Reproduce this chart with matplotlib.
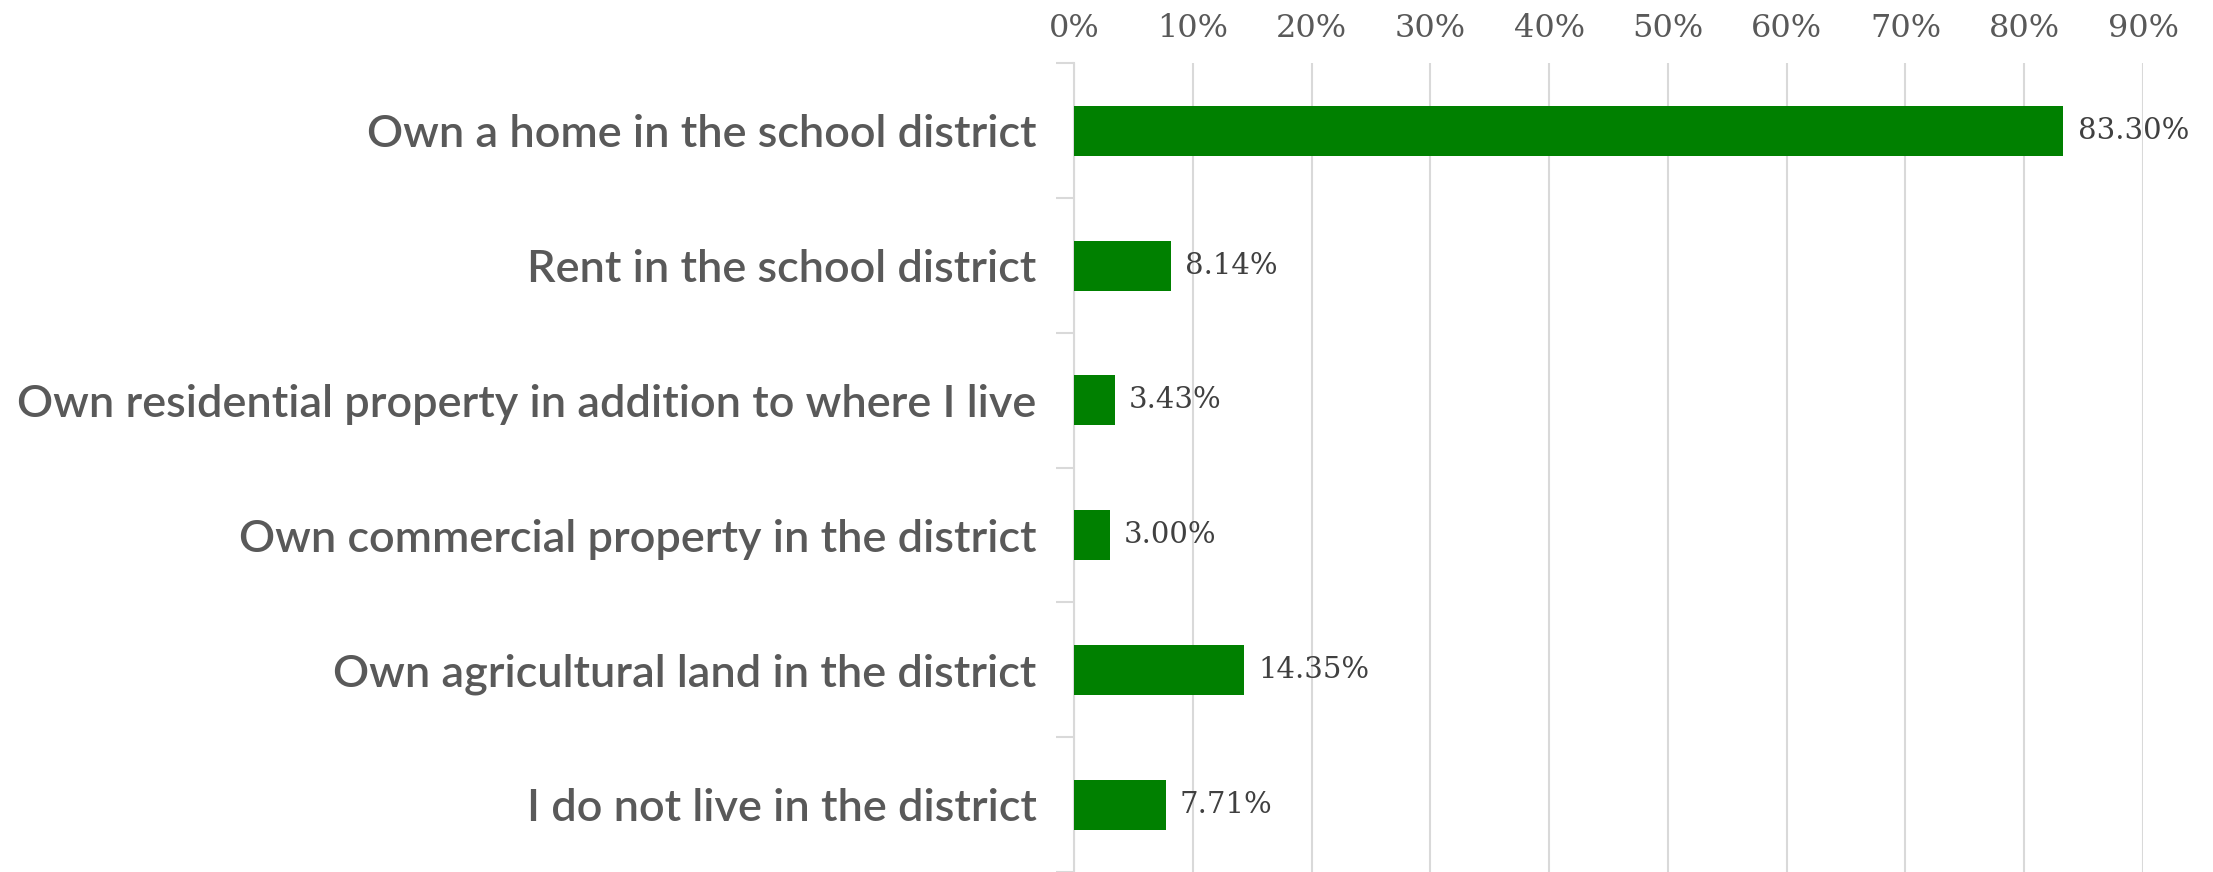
import numpy as np
import matplotlib
matplotlib.use("Agg")
import matplotlib.pyplot as plt
from matplotlib.ticker import FixedLocator

# 데이터
categories = [
    "Own a home in the school district",
    "Rent in the school district",
    "Own residential property in addition to where I live",
    "Own commercial property in the district",
    "Own agricultural land in the district",
    "I do not live in the district",
]
values = [83.30, 8.14, 3.43, 3.00, 14.35, 7.71]
x_ticks = [0, 10, 20, 30, 40, 50, 60, 70, 80, 90]
x_tick_labels = [f"{t}%" for t in x_ticks]

bar_color = "#008000"
grid_color = "#d9d9d9"

fig = plt.figure(figsize=(22.13, 8.72), dpi=100)
ax = fig.add_axes([1074 / 2213, 0.0, (2143 - 1074) / 2213, 1 - 63.5 / 872])

y = np.arange(len(categories))
ax.barh(y, values, height=0.37, color=bar_color, zorder=3)

# 막대 끝 값 라벨
for yi, v in zip(y, values):
    ax.text(v + 1.2, yi, f"{v:.2f}%", va="center", ha="left",
            fontsize=21, family="DejaVu Serif", color="#404040", zorder=4)

ax.set_xlim(0, 90)
ax.set_ylim(len(categories) - 0.5, -0.5)

ax.xaxis.tick_top()
ax.set_xticks(x_ticks)
ax.set_xticklabels(x_tick_labels, family="DejaVu Serif", fontsize=23, color="#595959")
ax.tick_params(axis="x", length=0, pad=14)
ax.grid(axis="x", color=grid_color, linewidth=1.5, zorder=0)

ax.set_yticks(y)
ax.set_yticklabels(categories, family="Lato", fontsize=32.4, fontweight="semibold", color="#595959")
ax.tick_params(axis="y", which="major", length=0, pad=27)
ax.yaxis.set_minor_locator(FixedLocator(np.arange(-0.5, len(categories), 1.0)))
ax.tick_params(axis="y", which="minor", length=13, width=1.5, color=grid_color)

for s in ["top", "right", "bottom"]:
    ax.spines[s].set_visible(False)
ax.spines["left"].set_color(grid_color)
ax.spines["left"].set_linewidth(1.5)

fig.savefig("out.png", dpi=100, facecolor="white")
